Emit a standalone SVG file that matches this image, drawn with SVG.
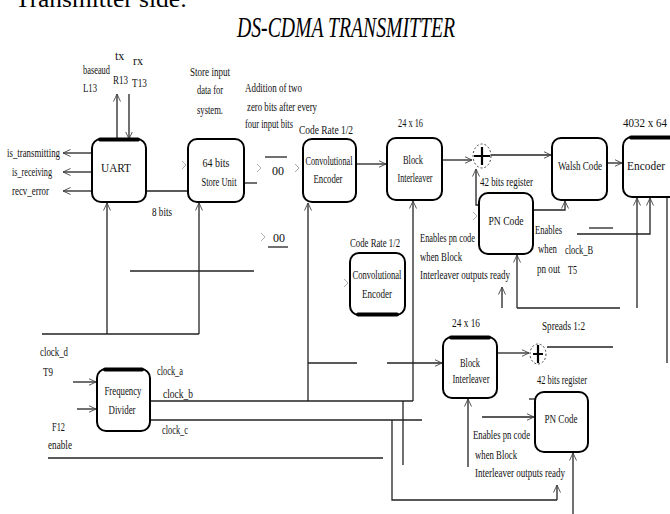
<svg xmlns="http://www.w3.org/2000/svg" width="670" height="514" viewBox="0 0 670 514">
<style>
.t{font-family:"Liberation Serif","Times New Roman",serif;font-size:12px;fill:#111}
.m{text-anchor:middle}
.box{fill:#fff;stroke:#000;stroke-width:2}
.thick{stroke:#000;stroke-width:4;fill:none;stroke-linecap:round}
.ln{stroke:#222;stroke-width:1.3;fill:none}
.ar{stroke:#222;stroke-width:1.3;fill:none;marker-end:url(#a)}
.cv{stroke:#999;stroke-width:0.8;fill:none}
.xor{fill:#fff;stroke:#444;stroke-width:1;stroke-dasharray:2 2}
.plus{stroke:#000;stroke-width:2.2}
</style>
<defs>
<marker id="a" viewBox="0 0 8 8" refX="7.5" refY="4" markerWidth="8" markerHeight="8" markerUnits="userSpaceOnUse" orient="auto">
<path d="M0,0.5 L7.5,4 L0,7.5" fill="none" stroke="#444" stroke-width="0.9"/>
</marker>
</defs>
<rect width="670" height="514" fill="#fff"/>
<text x="15" y="7" font-family="Liberation Serif, serif" font-size="23" fill="#000" textLength="172" lengthAdjust="spacingAndGlyphs">Transmitter side:</text>
<text x="237" y="37" font-family="Liberation Serif, serif" font-style="italic" font-size="29" fill="#000" textLength="218" lengthAdjust="spacingAndGlyphs">DS-CDMA TRANSMITTER</text>

<g id="connectors">
<path class="ar" d="M92,153 H63"/>
<path class="ar" d="M92,172 H63"/>
<path class="ar" d="M92,191 H63"/>
<path class="ar" d="M117,139 V94"/>
<path class="ar" d="M129,94 V139"/>
<path class="ln" d="M146,191 H188" stroke-width="2.4"/>
<path class="ln" d="M244,183 H257"/>
<path class="ln" d="M265,157 H287"/>
<path class="ln" d="M268,247 H288"/>
<path class="ar" d="M356,164 H386"/>
<path class="ar" d="M442,160 H472"/>
<path class="ar" d="M491,155 H551"/>
<path class="ar" d="M607,163 H622"/>
<path class="ar" d="M479,205 H476 V169"/>
<path class="ar" d="M533,210 H565 V201"/>
<path class="ln" d="M589,228 H613"/>
<path class="ar" d="M577,234 H650 V198"/>
<path class="ar" d="M637,308 V198"/>
<path class="ln" d="M620,308 H517"/>
<path class="ar" d="M517,308 V255"/>
<path class="ar" d="M502,308 V287"/>
<path class="ln" d="M667,197 V363"/>
<path class="ln" d="M150,401 H413"/>
<path class="ar" d="M413,401 V201"/>
<path class="ar" d="M308,401 V203"/>
<path class="ln" d="M308,363 H357"/>
<path class="ar" d="M387,363 H442"/>
<path class="ln" d="M150,420 H422"/>
<path class="ln" d="M403,401 V465"/>
<path class="ln" d="M392,420 V500 H557"/>
<path class="ar" d="M557,500 V485"/>
<path class="ln" d="M48,458 H383"/>
<path class="ar" d="M573,514 V453"/>
<path class="ar" d="M468,467 V399"/>
<path class="ar" d="M482,417 H534"/>
<path class="ln" d="M529,399 H535"/>
<path class="ar" d="M497,353 H529"/>
<path class="ln" d="M547,347 H613"/>
<path class="ln" d="M42,334 H199"/>
<path class="ar" d="M107,334 V203"/>
<path class="ar" d="M199,334 V203"/>
<path class="ln" d="M130,271 H254"/>
<path class="ar" d="M73,382 H96"/>
<path class="ar" d="M77,409 H96"/>
<path class="cv" d="M182,161 L186,165 L182,169"/>
<path class="cv" d="M257,164 L261,168 L257,172"/>
<path class="cv" d="M295,164 L299,168 L295,172"/>
<path class="cv" d="M261,233 L265,237 L261,241"/>
<path class="cv" d="M344,279 L348,283 L344,287"/>
<path class="cv" d="M473,212 L477,216 L473,220"/>
</g>

<g id="uart"><rect class="box" x="92" y="139" width="54" height="63" rx="9"/><path class="thick" d="M100,139.5 H138"/><text class="t m" x="116" y="172" font-size="14" textLength="30" lengthAdjust="spacingAndGlyphs">UART</text></g>
<g id="store"><rect class="box" x="188" y="139" width="56" height="63" rx="9"/><text class="t m" x="216" y="167" textLength="27" lengthAdjust="spacingAndGlyphs">64 bits</text><text class="t m" x="219" y="186" textLength="35" lengthAdjust="spacingAndGlyphs">Store Unit</text></g>
<g id="conv1"><rect class="box" x="303" y="139" width="53" height="63" rx="9"/><text class="t m" x="329" y="165" textLength="47" lengthAdjust="spacingAndGlyphs">Convolutional</text><text class="t m" x="328" y="183" textLength="29" lengthAdjust="spacingAndGlyphs">Encoder</text></g>
<g id="bi1"><rect class="box" x="387" y="138" width="55" height="62" rx="9"/><text class="t m" x="413" y="164" textLength="20" lengthAdjust="spacingAndGlyphs">Block</text><text class="t m" x="415" y="182" textLength="35" lengthAdjust="spacingAndGlyphs">Interleaver</text></g>
<g id="xor1"><ellipse class="xor" cx="482" cy="156" rx="9" ry="12"/><path class="plus" d="M482,147 V165 M474,156 H490"/></g>
<g id="walsh"><rect class="box" x="552" y="138" width="55" height="62" rx="9"/><text class="t m" x="580" y="170" textLength="44" lengthAdjust="spacingAndGlyphs">Walsh Code</text></g>
<g id="encoder"><rect class="box" x="623" y="137" width="60" height="60" rx="9"/><path class="thick" d="M631,137.5 H672"/><text class="t m" x="646" y="170" textLength="38" lengthAdjust="spacingAndGlyphs">Encoder</text></g>
<g id="pn1"><rect class="box" x="479" y="193" width="54" height="61" rx="9"/><text class="t m" x="506" y="225" textLength="35" lengthAdjust="spacingAndGlyphs">PN Code</text></g>
<g id="conv2"><rect class="box" x="350" y="253" width="55" height="62" rx="9"/><path class="thick" d="M358,314.5 H397"/><text class="t m" x="377" y="279" textLength="49" lengthAdjust="spacingAndGlyphs">Convolutional</text><text class="t m" x="377" y="298" textLength="30" lengthAdjust="spacingAndGlyphs">Encoder</text></g>
<g id="freqdiv"><rect class="box" x="97" y="369" width="53" height="62" rx="9"/><path class="thick" d="M105,369.5 H142"/><text class="t m" x="123" y="395" textLength="37" lengthAdjust="spacingAndGlyphs">Frequency</text><text class="t m" x="122" y="414" textLength="27" lengthAdjust="spacingAndGlyphs">Divider</text></g>
<g id="bi2"><rect class="box" x="443" y="337" width="54" height="61" rx="9"/><path class="thick" d="M451,337.5 H489"/><text class="t m" x="470" y="367" textLength="20" lengthAdjust="spacingAndGlyphs">Block</text><text class="t m" x="471" y="383" textLength="37" lengthAdjust="spacingAndGlyphs">Interleaver</text></g>
<g id="xor2"><ellipse class="xor" cx="538" cy="354" rx="8" ry="10"/><path class="plus" d="M538,345 V363 M533,354 H543"/></g>
<g id="pn2"><rect class="box" x="535" y="392" width="53" height="60" rx="9"/><text class="t m" x="561" y="423" textLength="33" lengthAdjust="spacingAndGlyphs">PN Code</text></g>

<g id="labels">
<text class="t" x="7" y="157" textLength="53" lengthAdjust="spacingAndGlyphs">is_transmitting</text>
<text class="t" x="12" y="176" textLength="40" lengthAdjust="spacingAndGlyphs">is_receiving</text>
<text class="t" x="12" y="195" textLength="37" lengthAdjust="spacingAndGlyphs">recv_error</text>
<text class="t" x="83" y="74" font-size="10" textLength="27" lengthAdjust="spacingAndGlyphs">baseaud</text>
<text class="t" x="83" y="92" textLength="14" lengthAdjust="spacingAndGlyphs">L13</text>
<text class="t" x="115" y="60" font-size="10">tx</text>
<text class="t" x="113" y="84" textLength="15" lengthAdjust="spacingAndGlyphs">R13</text>
<text class="t" x="133" y="65" font-size="10">rx</text>
<text class="t" x="132" y="87" textLength="15" lengthAdjust="spacingAndGlyphs">T13</text>
<text class="t m" x="210" y="76" textLength="40" lengthAdjust="spacingAndGlyphs">Store input</text>
<text class="t m" x="210" y="94" textLength="26" lengthAdjust="spacingAndGlyphs">data for</text>
<text class="t m" x="210" y="114" textLength="26" lengthAdjust="spacingAndGlyphs">system.</text>
<text class="t" x="245" y="92" font-size="10.5" textLength="57" lengthAdjust="spacingAndGlyphs">Addition of two</text>
<text class="t" x="247" y="111" font-size="10.5" textLength="70" lengthAdjust="spacingAndGlyphs">zero bits after every</text>
<text class="t" x="245" y="128" font-size="10.5" textLength="48" lengthAdjust="spacingAndGlyphs">four input bits</text>
<text class="t" x="299" y="134" textLength="54" lengthAdjust="spacingAndGlyphs">Code Rate 1/2</text>
<text class="t" x="272" y="175">00</text>
<text class="t" x="273" y="242">00</text>
<text class="t" x="152" y="216" textLength="20" lengthAdjust="spacingAndGlyphs">8 bits</text>
<text class="t" x="398" y="127" textLength="25" lengthAdjust="spacingAndGlyphs">24 x 16</text>
<text class="t" x="623" y="127" textLength="44" lengthAdjust="spacingAndGlyphs">4032 x 64</text>
<text class="t" x="480" y="186" textLength="53" lengthAdjust="spacingAndGlyphs">42 bits register</text>
<text class="t" x="535" y="234" textLength="27" lengthAdjust="spacingAndGlyphs">Enables</text>
<text class="t" x="538" y="253" textLength="19" lengthAdjust="spacingAndGlyphs">when</text>
<text class="t" x="537" y="273" textLength="23" lengthAdjust="spacingAndGlyphs">pn out</text>
<text class="t" x="565" y="254" textLength="28" lengthAdjust="spacingAndGlyphs">clock_B</text>
<text class="t" x="568" y="274" textLength="9" lengthAdjust="spacingAndGlyphs">T5</text>
<text class="t" x="420" y="242" textLength="55" lengthAdjust="spacingAndGlyphs">Enables pn code</text>
<text class="t" x="420" y="261" textLength="42" lengthAdjust="spacingAndGlyphs">when Block</text>
<text class="t" x="420" y="279" textLength="90" lengthAdjust="spacingAndGlyphs">Interleaver outputs ready</text>
<text class="t" x="350" y="247" textLength="50" lengthAdjust="spacingAndGlyphs">Code Rate 1/2</text>
<text class="t" x="40" y="356" textLength="28" lengthAdjust="spacingAndGlyphs">clock_d</text>
<text class="t" x="43" y="376" textLength="10" lengthAdjust="spacingAndGlyphs">T9</text>
<text class="t" x="157" y="375" textLength="26" lengthAdjust="spacingAndGlyphs">clock_a</text>
<text class="t" x="163" y="398" textLength="30" lengthAdjust="spacingAndGlyphs">clock_b</text>
<text class="t" x="162" y="434" textLength="26" lengthAdjust="spacingAndGlyphs">clock_c</text>
<text class="t" x="52" y="431" textLength="13" lengthAdjust="spacingAndGlyphs">F12</text>
<text class="t" x="48" y="449" textLength="24" lengthAdjust="spacingAndGlyphs">enable</text>
<text class="t" x="452" y="327" textLength="28" lengthAdjust="spacingAndGlyphs">24 x 16</text>
<text class="t" x="542" y="330" textLength="43" lengthAdjust="spacingAndGlyphs">Spreads 1:2</text>
<text class="t" x="537" y="384" textLength="50" lengthAdjust="spacingAndGlyphs">42 bits register</text>
<text class="t" x="473" y="439" textLength="57" lengthAdjust="spacingAndGlyphs">Enables pn code</text>
<text class="t" x="475" y="459" textLength="42" lengthAdjust="spacingAndGlyphs">when Block</text>
<text class="t" x="475" y="477" textLength="90" lengthAdjust="spacingAndGlyphs">Interleaver outputs ready</text>
</g>
</svg>
